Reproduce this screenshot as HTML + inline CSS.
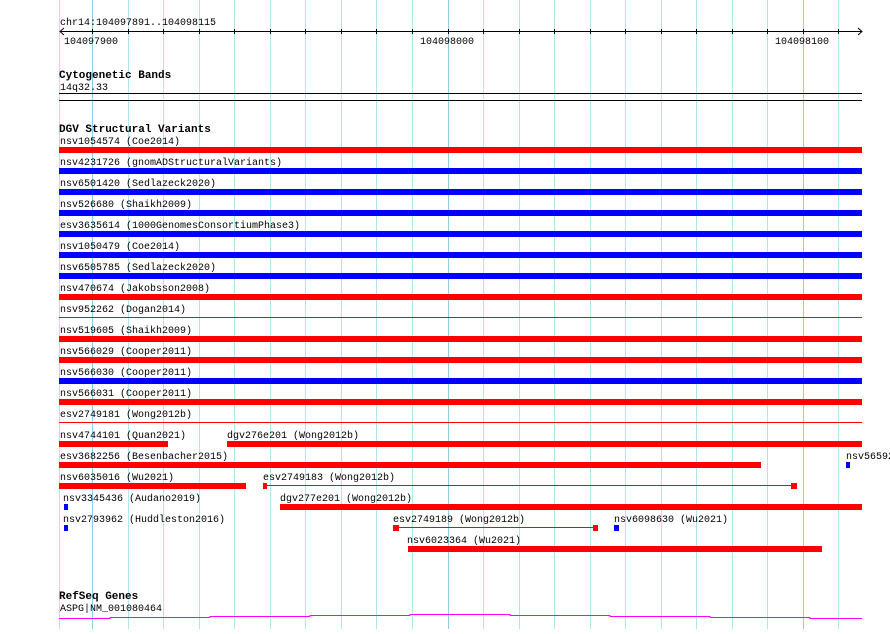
<!DOCTYPE html>
<html><head><meta charset="utf-8"><style>
html,body{margin:0;padding:0;background:#fff;}
svg text{font-family:"Liberation Mono",monospace;font-size:10px;fill:#000;}
svg text.b{font-weight:bold;font-size:11px;}
</style></head><body>
<svg width="890" height="629" xmlns="http://www.w3.org/2000/svg">
<g stroke="#aee8ee" stroke-width="1">
<line x1="59.5" y1="0" x2="59.5" y2="629"/>
<line x1="128.5" y1="0" x2="128.5" y2="629"/><line x1="163.5" y1="0" x2="163.5" y2="629"/><line x1="199.5" y1="0" x2="199.5" y2="629"/><line x1="234.5" y1="0" x2="234.5" y2="629"/><line x1="270.5" y1="0" x2="270.5" y2="629"/><line x1="305.5" y1="0" x2="305.5" y2="629"/><line x1="341.5" y1="0" x2="341.5" y2="629"/><line x1="376.5" y1="0" x2="376.5" y2="629"/><line x1="412.5" y1="0" x2="412.5" y2="629"/>
<line x1="483.5" y1="0" x2="483.5" y2="629"/><line x1="519.5" y1="0" x2="519.5" y2="629"/><line x1="554.5" y1="0" x2="554.5" y2="629"/><line x1="590.5" y1="0" x2="590.5" y2="629"/><line x1="625.5" y1="0" x2="625.5" y2="629"/><line x1="661.5" y1="0" x2="661.5" y2="629"/><line x1="696.5" y1="0" x2="696.5" y2="629"/><line x1="732.5" y1="0" x2="732.5" y2="629"/><line x1="767.5" y1="0" x2="767.5" y2="629"/>
<line x1="838.5" y1="0" x2="838.5" y2="629"/>
</g>
<g stroke="#8fcfe6"><line x1="92.5" y1="0" x2="92.5" y2="629"/><line x1="448.5" y1="0" x2="448.5" y2="629"/><line x1="803.5" y1="0" x2="803.5" y2="629"/></g>
<text x="60" y="25">chr14:104097891..104098115</text>
<g stroke="#000"><line x1="60" y1="31.5" x2="862" y2="31.5"/>
<polyline points="64,28 60,31.5 64,35" fill="none"/><polyline points="858,28 862,31.5 858,35" fill="none"/>
<path d="M92.5 29v5M128.5 29v5M163.5 29v5M199.5 29v5M234.5 29v5M270.5 29v5M305.5 29v5M341.5 29v5M376.5 29v5M412.5 29v5M448.5 29v5M483.5 29v5M519.5 29v5M554.5 29v5M590.5 29v5M625.5 29v5M661.5 29v5M696.5 29v5M732.5 29v5M767.5 29v5M803.5 29v5M838.5 29v5"/>
<line x1="59" y1="93.5" x2="862" y2="93.5"/><line x1="59" y1="100.5" x2="862" y2="100.5"/></g>
<text x="64" y="44">104097900</text><text x="420" y="44">104098000</text><text x="775" y="44">104098100</text>
<text class="b" x="59" y="78">Cytogenetic Bands</text>
<text x="60" y="90">14q32.33</text>
<text class="b" x="59" y="132">DGV Structural Variants</text>
<g>
<text x="60" y="144">nsv1054574 (Coe2014)</text><rect x="59" y="147" width="803" height="6" fill="#f00"/>
<text x="60" y="165">nsv4231726 (gnomADStructuralVariants)</text><rect x="59" y="168" width="803" height="6" fill="#00f"/>
<text x="60" y="186">nsv6501420 (Sedlazeck2020)</text><rect x="59" y="189" width="803" height="6" fill="#00f"/>
<text x="60" y="207">nsv526680 (Shaikh2009)</text><rect x="59" y="210" width="803" height="6" fill="#00f"/>
<text x="60" y="228">esv3635614 (1000GenomesConsortiumPhase3)</text><rect x="59" y="231" width="803" height="6" fill="#00f"/>
<text x="60" y="249">nsv1050479 (Coe2014)</text><rect x="59" y="252" width="803" height="6" fill="#00f"/>
<text x="60" y="270">nsv6505785 (Sedlazeck2020)</text><rect x="59" y="273" width="803" height="6" fill="#00f"/>
<text x="60" y="291">nsv470674 (Jakobsson2008)</text><rect x="59" y="294" width="803" height="6" fill="#f00"/>
<text x="60" y="312">nsv952262 (Dogan2014)</text><rect x="59" y="317" width="803" height="1" fill="#f00"/>
<text x="60" y="333">nsv519605 (Shaikh2009)</text><rect x="59" y="336" width="803" height="6" fill="#f00"/>
<text x="60" y="354">nsv566029 (Cooper2011)</text><rect x="59" y="357" width="803" height="6" fill="#f00"/>
<text x="60" y="375">nsv566030 (Cooper2011)</text><rect x="59" y="378" width="803" height="6" fill="#00f"/>
<text x="60" y="396">nsv566031 (Cooper2011)</text><rect x="59" y="399" width="803" height="6" fill="#f00"/>
<text x="60" y="417">esv2749181 (Wong2012b)</text><rect x="59" y="422" width="803" height="1" fill="#f00"/>
<text x="60" y="438">nsv4744101 (Quan2021)</text><rect x="59" y="441" width="109" height="6" fill="#f00"/>
<text x="227" y="438">dgv276e201 (Wong2012b)</text><rect x="227" y="441" width="635" height="6" fill="#f00"/>
<text x="60" y="459">esv3682256 (Besenbacher2015)</text><rect x="59" y="462" width="702" height="6" fill="#f00"/>
<text x="846" y="459">nsv56592</text><rect x="846" y="462" width="4" height="6" fill="#00f"/>
<text x="60" y="480">nsv6035016 (Wu2021)</text><rect x="59" y="483" width="187" height="6" fill="#f00"/>
<text x="263" y="480">esv2749183 (Wong2012b)</text><rect x="263" y="483" width="4" height="6" fill="#f00"/><rect x="267" y="485" width="526" height="1" fill="#f00"/><rect x="791" y="483" width="6" height="6" fill="#f00"/>
<text x="63" y="501">nsv3345436 (Audano2019)</text><rect x="64" y="504" width="4" height="6" fill="#00f"/>
<text x="280" y="501">dgv277e201 (Wong2012b)</text><rect x="280" y="504" width="582" height="6" fill="#f00"/>
<text x="63" y="522">nsv2793962 (Huddleston2016)</text><rect x="64" y="525" width="4" height="6" fill="#00f"/>
<text x="393" y="522">esv2749189 (Wong2012b)</text><rect x="393" y="525" width="6" height="6" fill="#f00"/><rect x="399" y="527" width="194" height="1" fill="#f00"/><rect x="593" y="525" width="5" height="6" fill="#f00"/>
<text x="614" y="522">nsv6098630 (Wu2021)</text><rect x="614" y="525" width="5" height="6" fill="#00f"/>
<text x="407" y="543">nsv6023364 (Wu2021)</text><rect x="408" y="546" width="414" height="6" fill="#f00"/>
</g>
<text class="b" x="59" y="599">RefSeq Genes</text>
<text x="60" y="611">ASPG|NM_001080464</text>
<polyline points="59,618.5 110,618.5 110,617.5 210,617.5 210,616.5 310,616.5 310,615.5 410,615.5 410,614.5 510,614.5 510,615.5 610,615.5 610,616.5 710,616.5 710,617.5 810,617.5 810,618.5 862,618.5" fill="none" stroke="#f0f" stroke-width="1"/>
</svg>
</body></html>
